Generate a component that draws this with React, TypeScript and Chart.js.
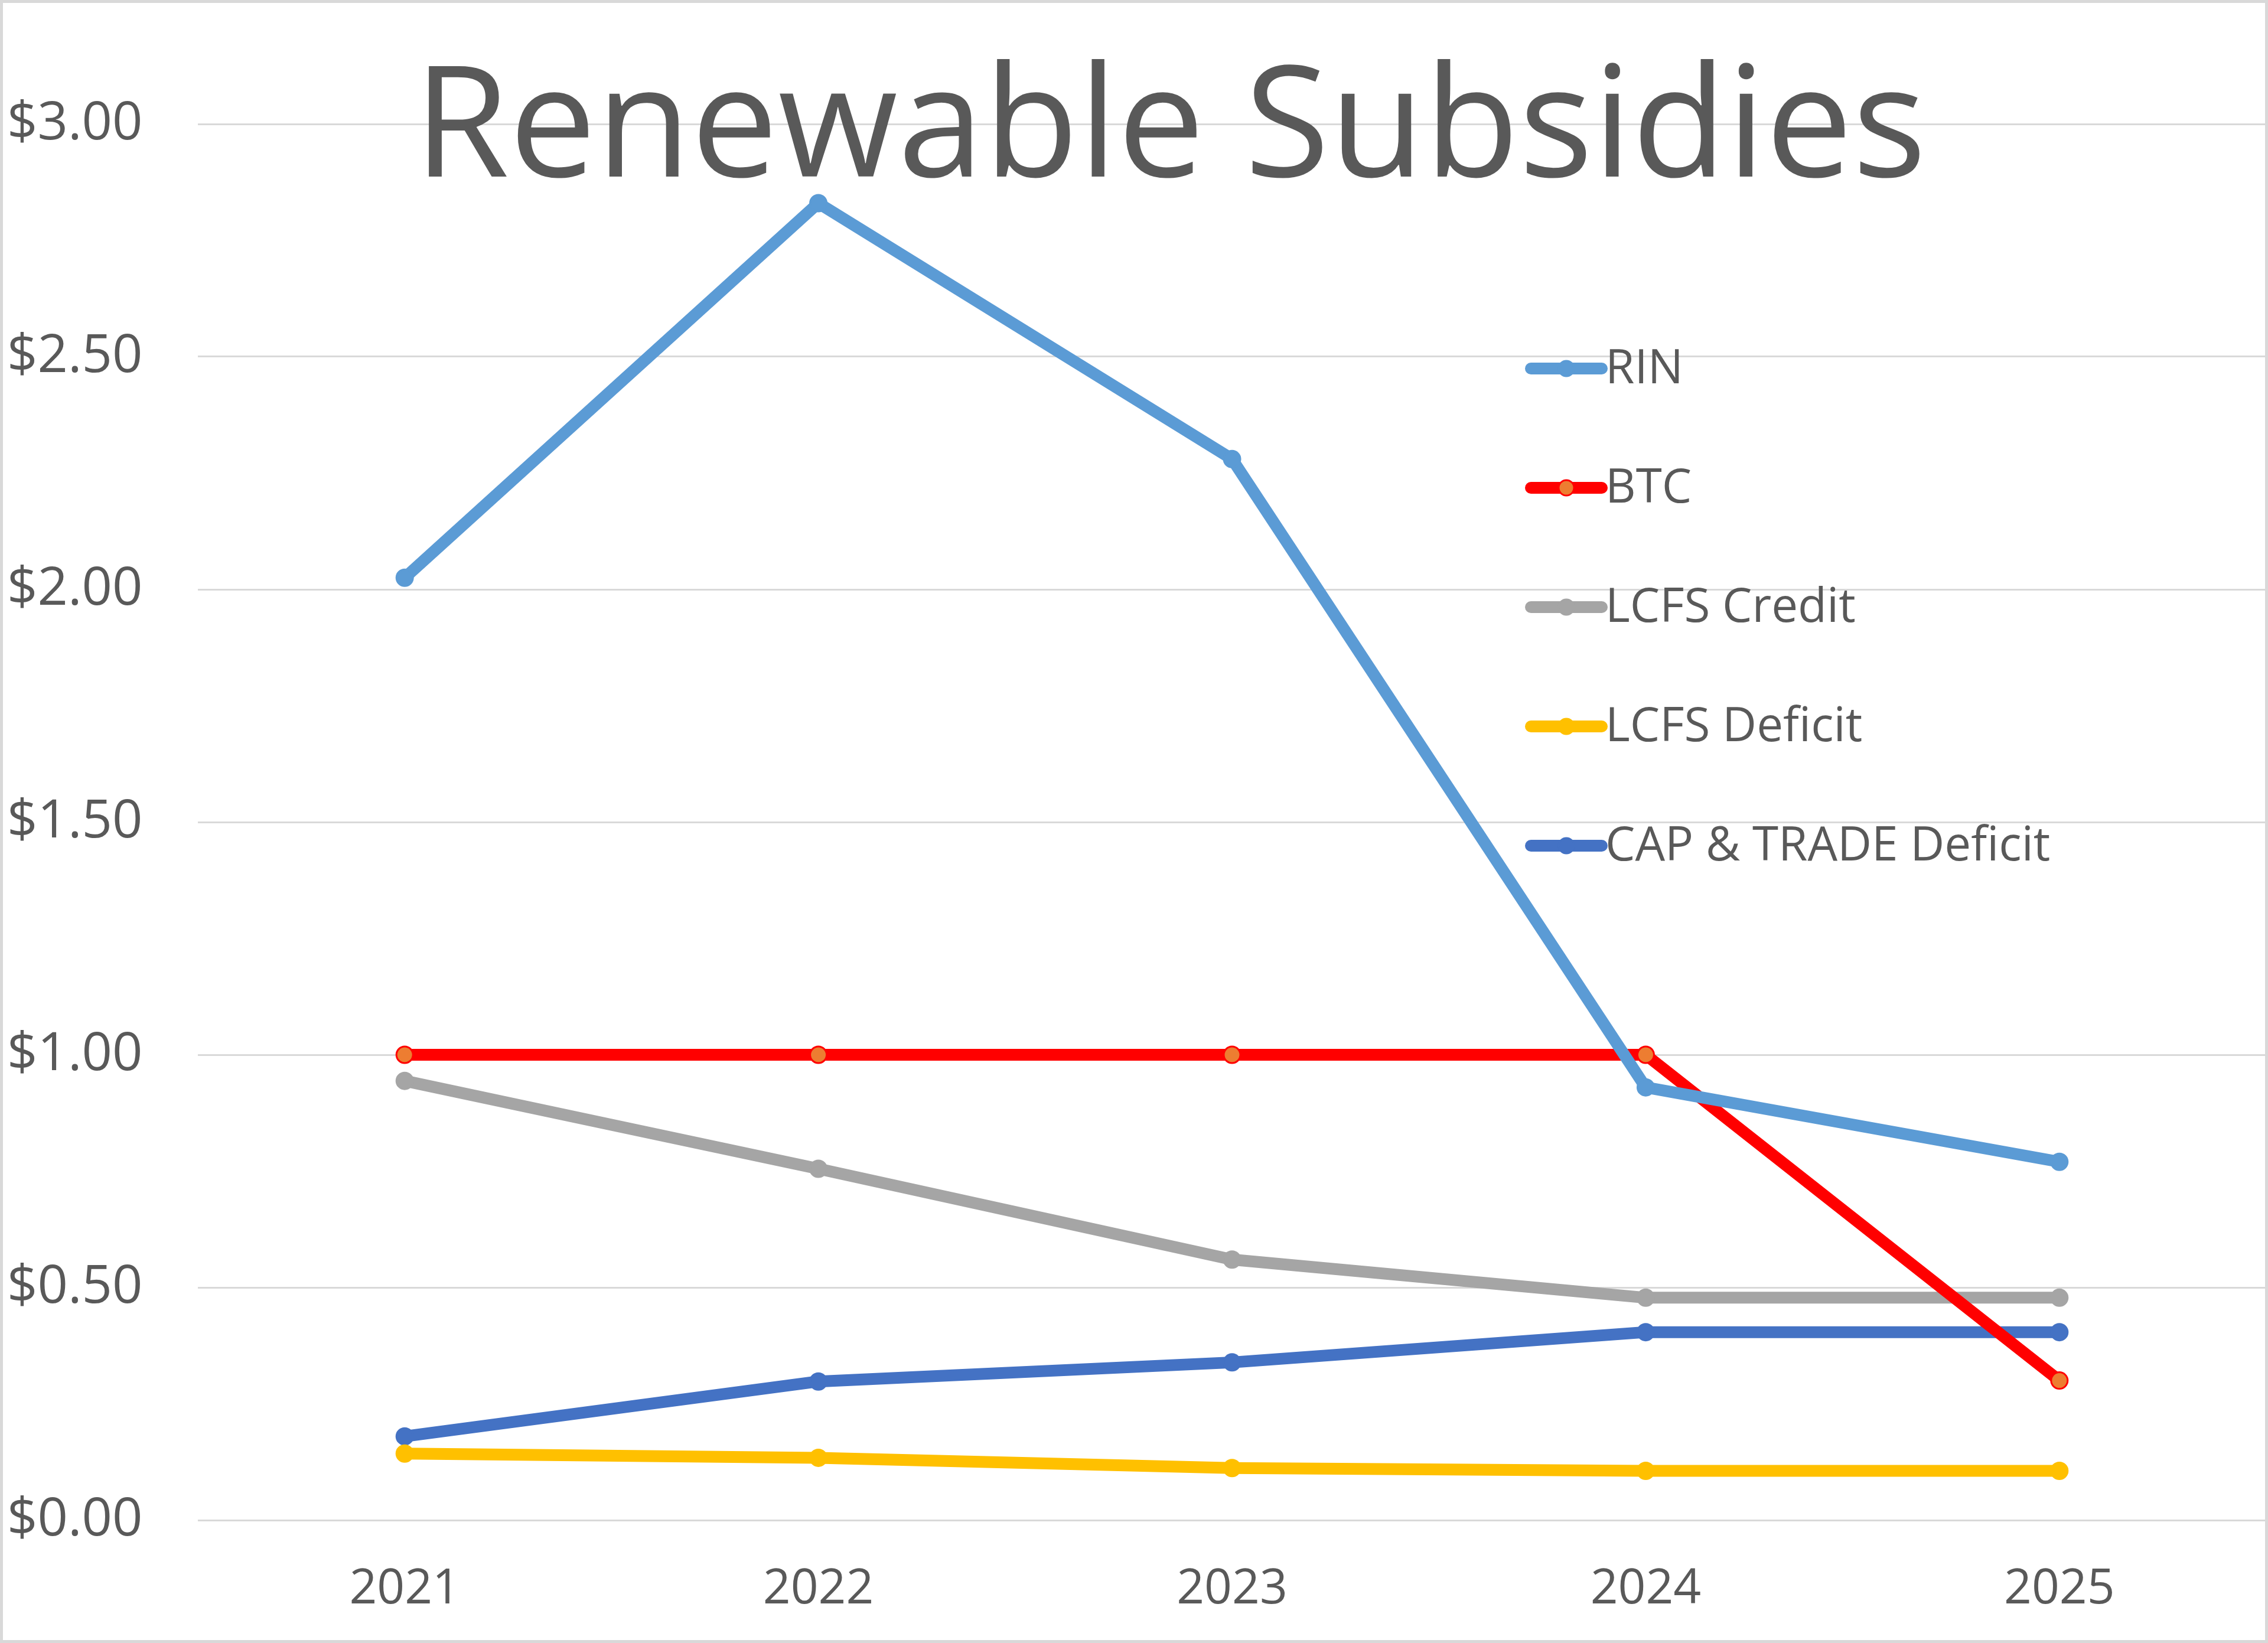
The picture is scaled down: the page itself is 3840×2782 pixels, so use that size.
import React, { useEffect, useRef } from "react";
import { Chart, registerables } from "chart.js";

Chart.register(...registerables);

const categories = ["2021", "2022", "2023", "2024", "2025"];
const seriesNames = ["RIN", "BTC", "LCFS Credit", "LCFS Deficit", "CAP & TRADE Deficit"];
const rinValues = [2.025, 2.83, 2.28, 0.93, 0.77];
const btcValues = [1.0, 1.0, 1.0, 1.0, 0.3];
const lcfsCreditValues = [0.944, 0.755, 0.56, 0.478, 0.478];
const lcfsDeficitValues = [0.143, 0.134, 0.112, 0.106, 0.106];
const capTradeValues = [0.18, 0.298, 0.339, 0.404, 0.404];
const yTicks = [0, 0.5, 1, 1.5, 2, 2.5, 3];
const titleText = "Renewable Subsidies";

const W = 3840;
const H = 2782;
const TEXT = "#595959";
const FONT = "'Open Sans', 'Noto Sans', sans-serif";

const bgPlugin = {
  id: "bgBorder",
  beforeDraw(chart: any) {
    const ctx = chart.ctx;
    ctx.save();
    ctx.fillStyle = "#ffffff";
    ctx.fillRect(0, 0, chart.width, chart.height);
    ctx.restore();
  },
  afterDraw(chart: any) {
    const ctx = chart.ctx;
    ctx.save();
    ctx.strokeStyle = "#D9D9D9";
    ctx.lineWidth = 5;
    ctx.strokeRect(2.5, 2.5, chart.width - 5, chart.height - 5);
    ctx.restore();
  },
};

const titlePlugin = {
  id: "overlayTitle",
  afterDraw(chart: any) {
    const ctx = chart.ctx;
    ctx.save();
    ctx.font = `262px ${FONT}`;
    ctx.fillStyle = TEXT;
    ctx.textAlign = "center";
    ctx.textBaseline = "alphabetic";
    ctx.fillText(titleText, 1981, 299);
    ctx.restore();
  },
};

const legendPlugin = {
  id: "overlayLegend",
  afterDraw(chart: any) {
    const ctx = chart.ctx;
    const x0 = 2592;
    const x1 = 2712;
    const y0 = 624;
    const gap = 202;
    ctx.save();
    chart.data.datasets.forEach((ds: any, i: number) => {
      const y = y0 + i * gap;
      ctx.strokeStyle = ds.borderColor;
      ctx.lineWidth = 20;
      ctx.lineCap = "round";
      ctx.beginPath();
      ctx.moveTo(x0, y);
      ctx.lineTo(x1, y);
      ctx.stroke();
      ctx.beginPath();
      ctx.arc((x0 + x1) / 2, y, 13, 0, Math.PI * 2);
      ctx.fillStyle = ds.pointBackgroundColor;
      ctx.fill();
      ctx.lineWidth = ds.pointBorderWidth;
      ctx.strokeStyle = ds.pointBorderColor;
      ctx.stroke();
      ctx.font = `80px ${FONT}`;
      ctx.fillStyle = TEXT;
      ctx.textAlign = "left";
      ctx.textBaseline = "middle";
      ctx.fillText(ds.label, 2718, y + 2);
    });
    ctx.restore();
  },
};

function makeDataset(label: string, data: number[], color: string, pointFill?: string) {
  return {
    label,
    data,
    borderColor: color,
    backgroundColor: color,
    borderWidth: 20,
    pointRadius: 14,
    pointBackgroundColor: pointFill || color,
    pointBorderColor: color,
    pointBorderWidth: 3,
    tension: 0,
    borderCapStyle: "round",
    borderJoinStyle: "round",
  };
}

export default function App() {
  const ref = useRef<HTMLCanvasElement | null>(null);
  useEffect(() => {
    if (!ref.current) return;
    const chart = new Chart(ref.current, {
      type: "line",
      data: {
        labels: categories,
        datasets: [
          makeDataset(seriesNames[0], rinValues, "#5B9BD5"),
          makeDataset(seriesNames[1], btcValues, "#FF0000", "#ED7D31"),
          makeDataset(seriesNames[2], lcfsCreditValues, "#A5A5A5"),
          makeDataset(seriesNames[3], lcfsDeficitValues, "#FFC000"),
          makeDataset(seriesNames[4], capTradeValues, "#4472C4"),
        ] as any,
      },
      options: {
        responsive: false,
        animation: false,
        devicePixelRatio: 1,
        layout: { autoPadding: false, padding: { left: 12, top: 210, right: 3, bottom: 0 } },
        plugins: {
          legend: { display: false },
          title: { display: false },
          tooltip: { enabled: false },
        },
        scales: {
          x: {
            type: "category",
            offset: true,
            grid: { display: false, drawTicks: false },
            border: { display: false },
            ticks: {
              padding: 68,
              color: TEXT,
              font: { family: FONT, size: 82 },
              maxRotation: 0,
            },
            afterFit(scale: any) {
              scale.height = 208;
              scale.paddingLeft = 0;
              scale.paddingRight = 0;
            },
          },
          y: {
            min: 0,
            max: 3,
            afterBuildTicks(scale: any) {
              scale.ticks = yTicks.map((v) => ({ value: v }));
            },
            grid: { color: "#D9D9D9", lineWidth: 3, drawTicks: false },
            border: { display: false },
            ticks: {
              crossAlign: "far",
              padding: 0,
              color: TEXT,
              font: { family: FONT, size: 90 },
              callback: (v: any) => "$" + Number(v).toFixed(2),
            },
            afterFit(scale: any) {
              scale.width = 323;
            },
          },
        },
      } as any,
      plugins: [bgPlugin, titlePlugin, legendPlugin],
    });
    return () => chart.destroy();
  }, []);
  return (
    <div style={{ position: "fixed", left: 0, top: 0, width: W, height: H }}>
      <canvas ref={ref} width={W} height={H} style={{ width: W, height: H, display: "block" }} />
    </div>
  );
}
